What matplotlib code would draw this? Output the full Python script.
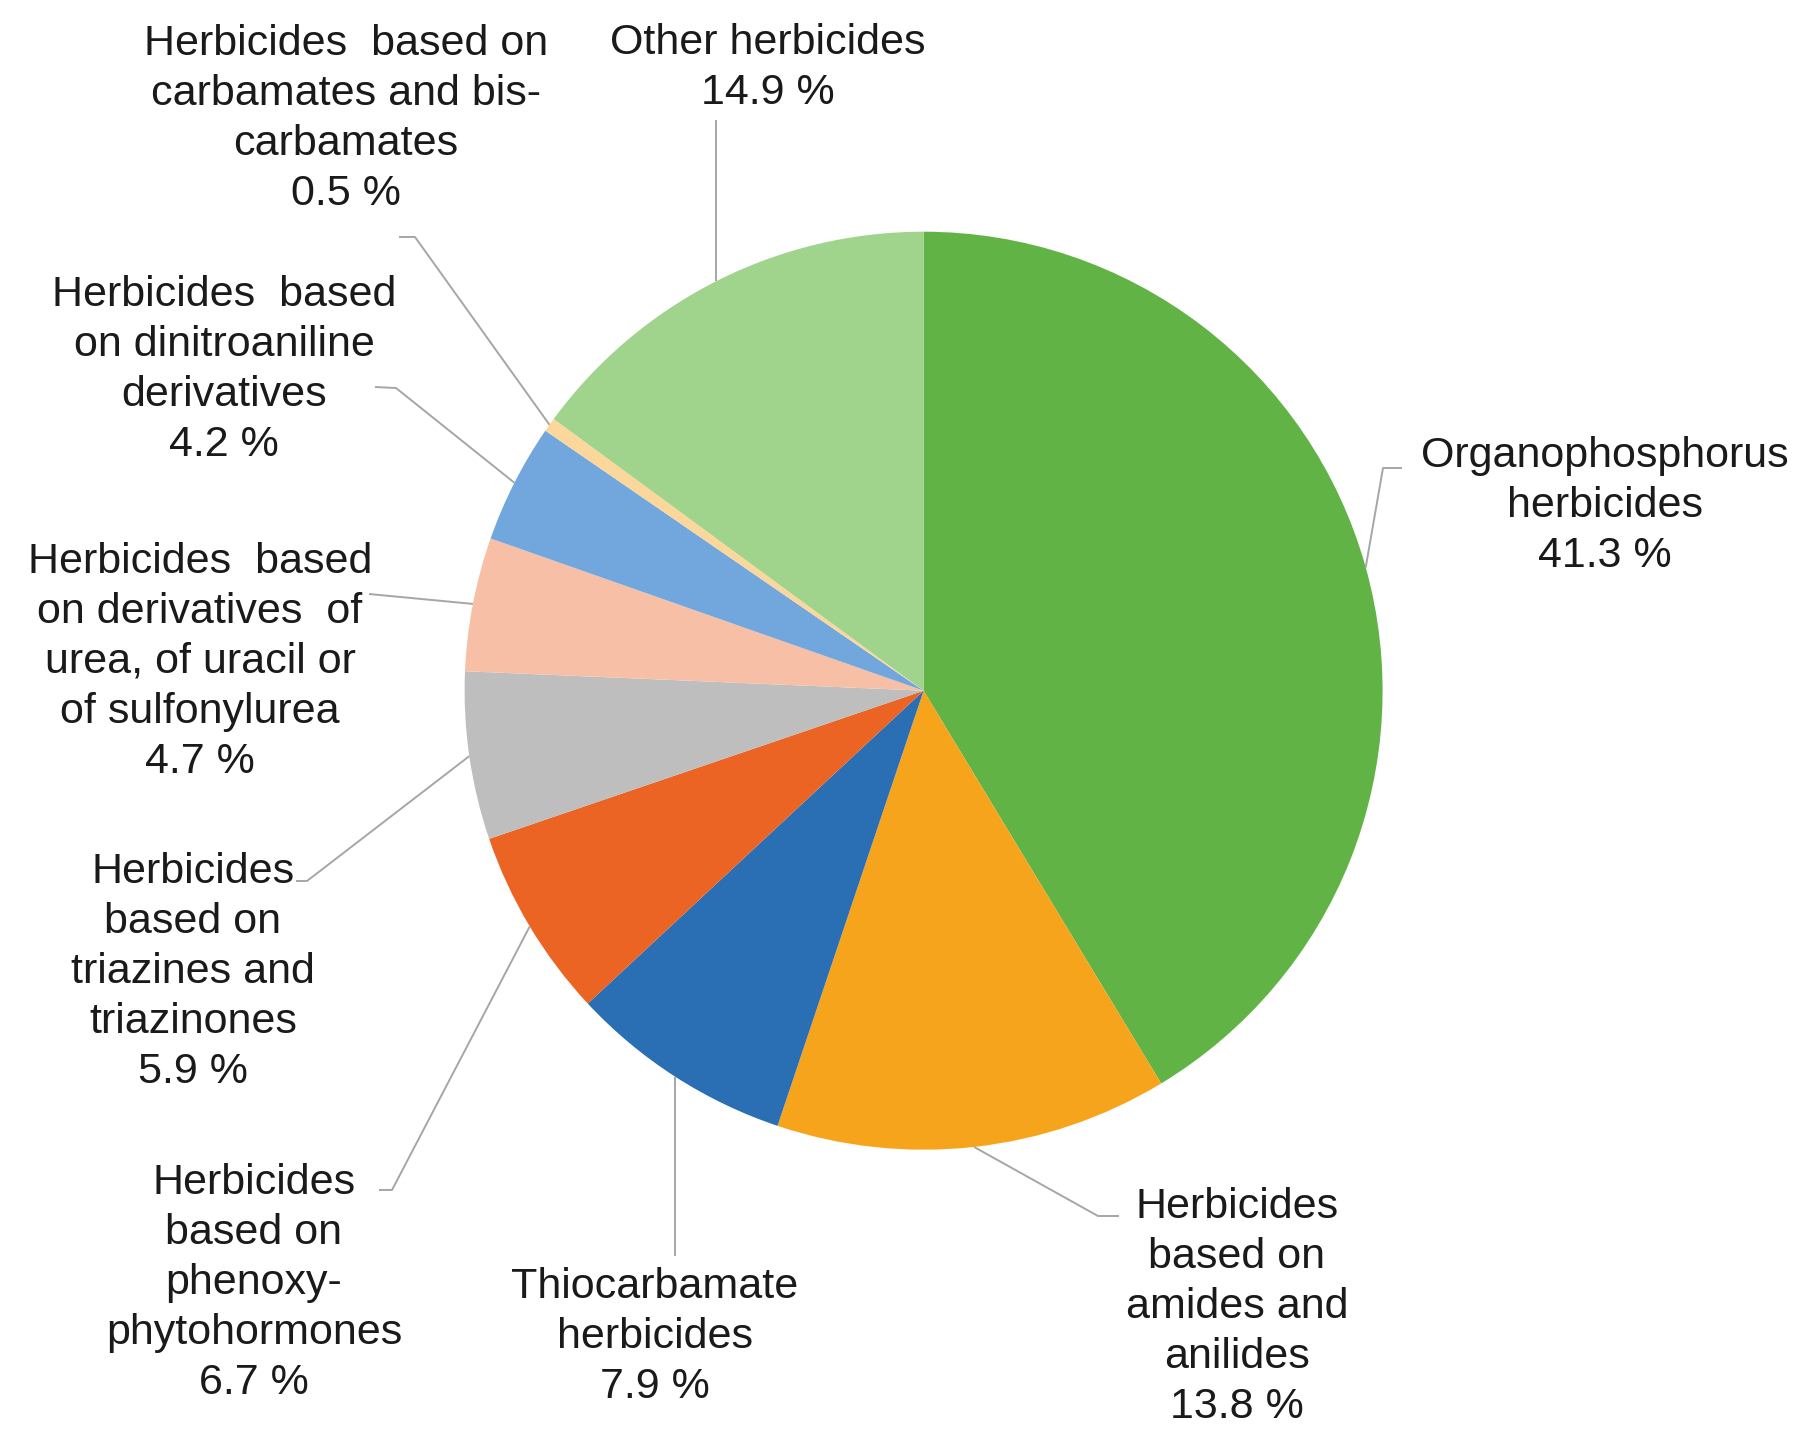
import matplotlib.pyplot as plt
import numpy as np

labels = [
    "Organophosphorus\nherbicides",
    "Herbicides\nbased on\namides and\nanilides",
    "Thiocarbamate\nherbicides",
    "Herbicides\nbased on\nphenoxy-\nphytohormones",
    "Herbicides\nbased on\ntriazines and\ntriazinones",
    "Herbicides  based\non derivatives  of\nurea, of uracil or\nof sulfonylurea",
    "Herbicides  based\non dinitroaniline\nderivatives",
    "Herbicides  based on\ncarbamates and bis-\ncarbamates",
    "Other herbicides",
]
shares = [41.3, 13.8, 7.9, 6.7, 5.9, 4.7, 4.2, 0.5, 14.9]
colors = ["#62B346", "#F7A41D", "#2A6EB3", "#EC6424", "#BEBEBE",
          "#F7C0A6", "#72A7DD", "#FBD79C", "#A0D38B"]

W, H = 1799, 1429
cx, cy, R = 923.6, 690.7, 459

# label block centres and leader elbow/end points, pixels from top-left
text_pos = [(1605, 506), (1237, 1307), (655, 1337), (254, 1283), (193, 972),
            (200, 662), (224, 370), (346, 119), (768, 68)]
leaders = [
    [(1383, 468), (1402, 468)],
    [(1098, 1216), (1119, 1216)],
    [(None, 1256)],
    [(392, 1190), (379, 1190)],
    [(307, 881), (296, 881)],
    [(369, 594)],
    [(396, 388), (375, 387)],
    [(415, 237), (399, 237)],
    [(None, 120)],
]

plt.rcParams['font.family'] = ['Liberation Sans', 'DejaVu Sans']

fig = plt.figure(figsize=(W / 100, H / 100), dpi=100)
ax = fig.add_axes([0, 0, 1, 1])

wedges, _ = ax.pie(shares, colors=colors, startangle=90, counterclock=False,
                   radius=R, center=(cx, H - cy),
                   wedgeprops=dict(linewidth=0))
ax.set_xlim(0, W)
ax.set_ylim(0, H)
ax.set_aspect('equal')
ax.axis('off')

for w, lab, val, (tx, ty), pts in zip(wedges, labels, shares, text_pos, leaders):
    mid = np.deg2rad((w.theta1 + w.theta2) / 2)
    ex = cx + R * np.cos(mid)
    ey = (H - cy) + R * np.sin(mid)
    xs, ys = [ex], [ey]
    for px, py in pts:
        xs.append(ex if px is None else px)
        ys.append(H - py)
    ax.plot(xs, ys, color="#A6A6A6", lw=1.4, solid_capstyle='butt')
    ax.text(tx, H - ty, f"{lab}\n{val} %", ha='center', va='center',
            multialignment='center', fontsize=31, linespacing=1.32,
            color="#1A1A1A")

fig.savefig("out.png", dpi=100)
